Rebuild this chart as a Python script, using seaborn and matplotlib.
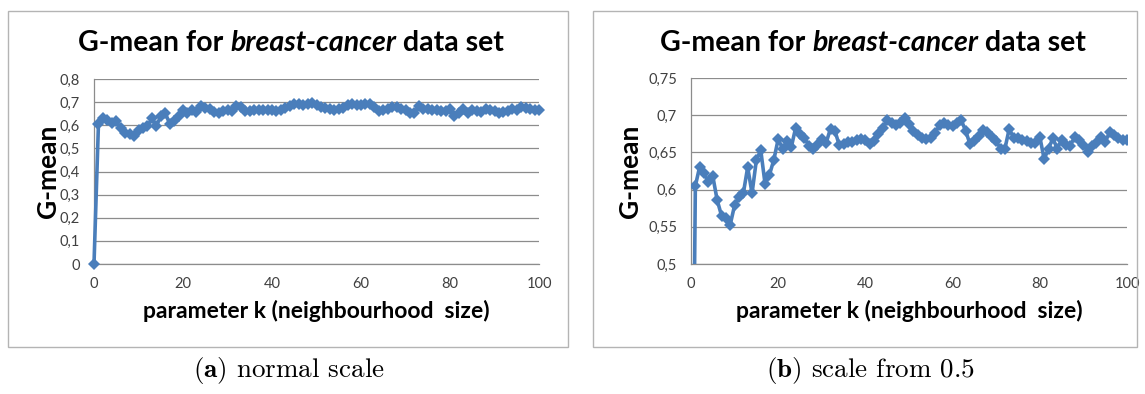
import numpy as np
import pandas as pd
import matplotlib
matplotlib.use("Agg")
import matplotlib.pyplot as plt
from matplotlib.patches import Rectangle
from matplotlib.ticker import FuncFormatter, MultipleLocator
import seaborn as sns

# Neighbourhood size k and the G-mean obtained for each k
k_values = list(range(0, 101))
gmean_values = [
    0.000, 0.605, 0.631, 0.622, 0.610, 0.618, 0.586, 0.565, 0.562, 0.553,
    0.579, 0.590, 0.595, 0.630, 0.595, 0.640, 0.653, 0.607, 0.620, 0.640,
    0.668, 0.655, 0.665, 0.657, 0.683, 0.675, 0.670, 0.659, 0.655, 0.660,
    0.668, 0.663, 0.682, 0.679, 0.660, 0.661, 0.664, 0.664, 0.666, 0.668,
    0.666, 0.661, 0.665, 0.675, 0.683, 0.693, 0.690, 0.687, 0.690, 0.696,
    0.688, 0.679, 0.673, 0.670, 0.668, 0.670, 0.676, 0.687, 0.690, 0.687,
    0.686, 0.690, 0.693, 0.679, 0.661, 0.665, 0.672, 0.680, 0.677, 0.671,
    0.665, 0.655, 0.655, 0.682, 0.669, 0.670, 0.667, 0.665, 0.662, 0.662,
    0.671, 0.641, 0.655, 0.669, 0.655, 0.667, 0.660, 0.659, 0.671, 0.667,
    0.660, 0.651, 0.658, 0.662, 0.671, 0.664, 0.677, 0.673, 0.669, 0.666,
    0.667,
]

panel_captions = ["(a)", "(b)"]
caption_texts = ["normal scale", "scale from 0.5"]
title_parts = ["G-mean for ", "breast-cancer", " data set"]
x_label = "parameter k (neighbourhood  size)"
y_label = "G-mean"

df = pd.DataFrame({"k": k_values, "gmean": gmean_values})

sns.set_theme(style="white")
plt.rcParams["font.family"] = ["Lato", "DejaVu Sans"]
plt.rcParams["mathtext.fontset"] = "cm"

W, H = 1145, 394
fig = plt.figure(figsize=(W / 100, H / 100), dpi=100)
fig.patch.set_facecolor("white")

LINE = "#4A7EBB"
GRID = "#8C8C8C"
FRAME = "#B4B4B4"
TICKTXT = "#404040"


def px_box(x0, y0, x1, y1):
    return [x0 / W, 1 - y1 / H, (x1 - x0) / W, (y1 - y0) / H]


def comma_fmt(decimals):
    def f(v, pos):
        if abs(v) < 1e-9:
            return "0"
        s = f"{v:.{decimals}f}".rstrip("0").rstrip(".")
        return s.replace(".", ",")
    return FuncFormatter(f)


panels = [
    dict(frame=(8, 11, 568, 347), axes=(94, 79, 539, 264), ylim=(0, 0.8),
         ystep=0.1, dec=1, cx=291, ylab_right=60, clip=False),
    dict(frame=(593, 11, 1137, 347), axes=(691, 78, 1127, 264), ylim=(0.5, 0.75),
         ystep=0.05, dec=2, cx=873, ylab_right=642, clip=True),
]

renderer = fig.canvas.get_renderer()

for i, p in enumerate(panels):
    fx0, fy0, fx1, fy1 = p["frame"]
    fig.patches.append(Rectangle((fx0 / W, 1 - fy1 / H), (fx1 - fx0) / W,
                                 (fy1 - fy0) / H, transform=fig.transFigure,
                                 fill=False, edgecolor=FRAME, linewidth=1.0))

    ax0, ay0, ax1, ay1 = p["axes"]
    ax = fig.add_axes(px_box(*p["axes"]))
    sns.lineplot(data=df, x="k", y="gmean", ax=ax, color=LINE, linewidth=2.6,
                 marker="D", markersize=6.5, markeredgewidth=0,
                 markerfacecolor=LINE, clip_on=p["clip"], zorder=3)
    ax.set_xlim(0, 100)
    ax.set_ylim(*p["ylim"])
    ax.xaxis.set_major_locator(MultipleLocator(20))
    ax.yaxis.set_major_locator(MultipleLocator(p["ystep"]))
    ax.yaxis.set_major_formatter(comma_fmt(p["dec"]))
    ax.xaxis.set_major_formatter(FuncFormatter(lambda v, pos: f"{int(round(v))}"))
    ax.grid(axis="y", color=GRID, linewidth=0.9)
    ax.grid(axis="x", visible=False)
    ax.set_axisbelow(True)
    for s in ("top", "right"):
        ax.spines[s].set_visible(False)
    for s in ("left", "bottom"):
        ax.spines[s].set_color(GRID)
        ax.spines[s].set_linewidth(0.9)
    ax.tick_params(axis="both", which="major", direction="out", length=4,
                   width=0.9, color=GRID, labelsize=10.5, labelcolor=TICKTXT)
    ax.tick_params(axis="y", pad=6)
    ax.tick_params(axis="x", pad=5)
    ax.set_xlabel(x_label, fontsize=16.5, fontweight="bold", color="black")
    ax.set_ylabel(y_label, fontsize=19, fontweight="bold", color="black")
    ax.xaxis.set_label_coords(0.5, (ay1 - 300) / (ay1 - ay0))
    ax.yaxis.set_label_coords((p["ylab_right"] - ax0) / (ax1 - ax0), 0.5)

    # Title with the data set name in italics
    ty = 1 - 43 / H
    pieces = []
    for j, part in enumerate(title_parts):
        style = "italic" if j == 1 else "normal"
        t = fig.text(0, ty, part, fontsize=20.5, fontweight="bold", style=style,
                     ha="left", va="center", color="black")
        pieces.append(t)
    widths = [t.get_window_extent(renderer).width for t in pieces]
    x = p["cx"] - sum(widths) / 2
    for t, w in zip(pieces, widths):
        t.set_x(x / W)
        x += w

    # Sub-figure caption
    fig.text((p["cx"] - 2) / W, 1 - 370 / H,
             r"$\mathbf{" + panel_captions[i] + r"}$ " + caption_texts[i],
             fontsize=19.5, family="cmr10", ha="center", va="center",
             color="black")

fig.savefig("out.png", dpi=100, facecolor="white")
